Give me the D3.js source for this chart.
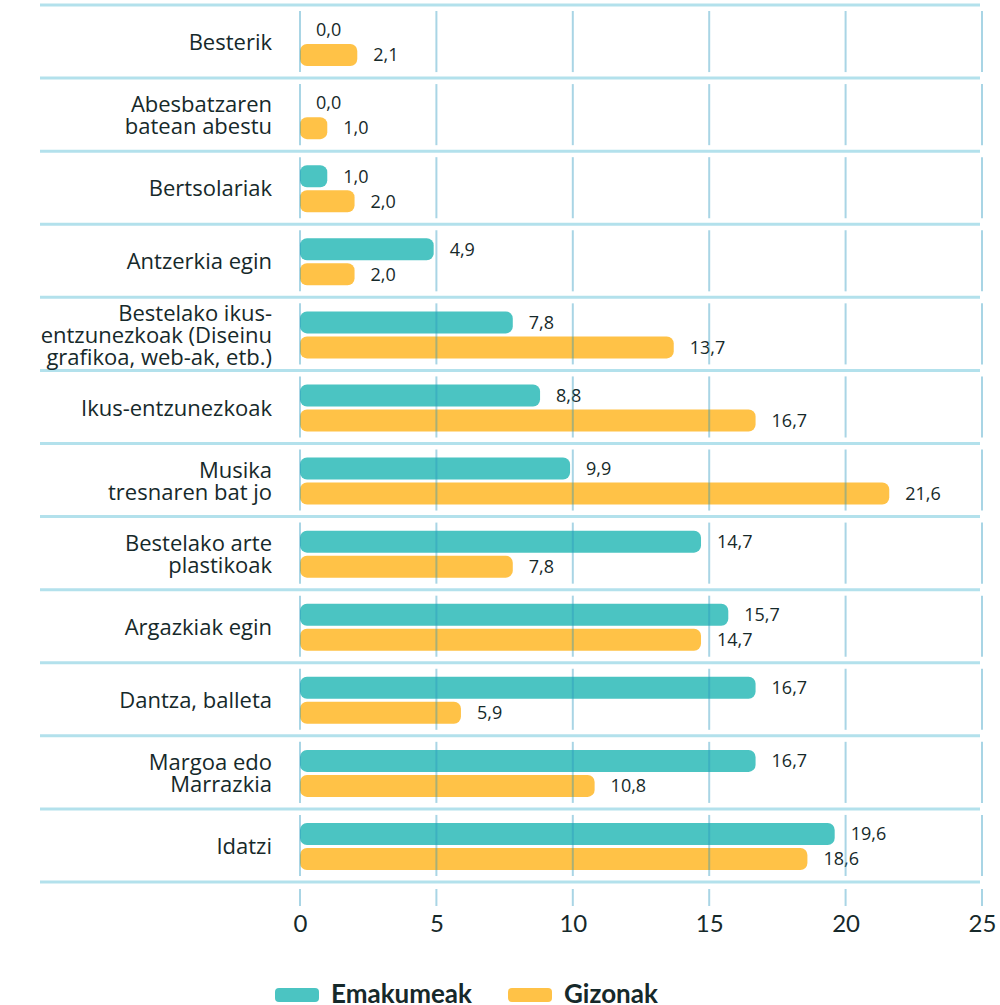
<!DOCTYPE html>
<html>
<head>
<meta charset="utf-8">
<script src="https://cdn.jsdelivr.net/npm/d3@7"></script>
<style>
  body { margin: 0; background: #fff; }
  svg text { font-family: "Open Sans", "Noto Sans", sans-serif; fill: #16292a; }
</style>
</head>
<body>
<div id="chart"></div>
<script>
// categories, top to bottom (each one split in its display lines)
var categories = [
  ["Besterik"],
  ["Abesbatzaren", "batean abestu"],
  ["Bertsolariak"],
  ["Antzerkia egin"],
  ["Bestelako ikus-", "entzunezkoak (Diseinu", "grafikoa, web-ak, etb.)"],
  ["Ikus-entzunezkoak"],
  ["Musika", "tresnaren bat jo"],
  ["Bestelako arte", "plastikoak"],
  ["Argazkiak egin"],
  ["Dantza, balleta"],
  ["Margoa edo", "Marrazkia"],
  ["Idatzi"]
];
var emakumeak = [0.0, 0.0, 1.0, 4.9, 7.8, 8.8, 9.9, 14.7, 15.7, 16.7, 16.7, 19.6];
var gizonak   = [2.1, 1.0, 2.0, 2.0, 13.7, 16.7, 21.6, 7.8, 14.7, 5.9, 10.8, 18.6];
var seriesNames = ["Emakumeak", "Gizonak"];
var tickValues = [0, 5, 10, 15, 20, 25];

var width = 1000, height = 1005;
var colors = ["#4bc4c2", "#ffc247"];
var fmt = function(v){ return v.toFixed(1).replace(".", ","); };

var svg = d3.select("#chart").append("svg")
    .attr("width", width)
    .attr("height", height);

var x = d3.scaleLinear().domain([0, 25]).range([300, 982]);
var y = d3.scaleBand().domain(d3.range(categories.length)).range([5, 882]);

var barH = 22, gap = 3;

// horizontal separators
svg.selectAll("line.sep")
   .data(d3.range(categories.length + 1))
   .enter().append("line")
   .attr("x1", 40).attr("x2", 980)
   .attr("y1", function(i){ return i < categories.length ? y(i) : y.range()[1]; })
   .attr("y2", function(i){ return i < categories.length ? y(i) : y.range()[1]; })
   .attr("stroke", "#b3e1ec")
   .attr("stroke-width", 3);

// bars
var rows = categories.map(function(c, i){
  return {i: i, vals: [emakumeak[i], gizonak[i]]};
});

var g = svg.selectAll("g.row").data(rows).enter().append("g");

g.each(function(d){
  var sel = d3.select(this);
  var mid = y(d.i) + y.bandwidth() / 2 + 1;
  d.vals.forEach(function(v, k){
    var top = k === 0 ? mid - gap / 2 - barH : mid + gap / 2;
    var w = x(v) - x(0);
    if (w > 0) {
      sel.append("rect")
         .attr("x", x(0)).attr("y", top)
         .attr("width", w).attr("height", barH)
         .attr("rx", 7).attr("ry", 7)
         .attr("fill", colors[k]);
    }
    sel.append("text")
       .attr("x", x(v) + 16)
       .attr("y", top + barH / 2)
       .attr("dy", "0.35em")
       .attr("font-size", 18)
       .text(fmt(v));
  });
  // category label
  var lines = categories[d.i];
  var lh = 22;
  sel.append("text")
     .attr("text-anchor", "end")
     .attr("font-size", 22)
     .selectAll("tspan").data(lines).enter().append("tspan")
     .attr("x", 272)
     .attr("y", function(l, j){ return mid + (j - (lines.length - 1) / 2) * lh; })
     .attr("dy", "0.35em")
     .text(function(l){ return l; });
});

// vertical grid segments, drawn over the bars
var bands = d3.range(categories.length + 1);
bands.forEach(function(i){
  var y0 = i < categories.length ? y(i) + 6 : y.range()[1] + 7;
  var y1 = i < categories.length ? y(i) + y.bandwidth() - 6 : y.range()[1] + 24;
  svg.selectAll(null).data(tickValues).enter().append("line")
     .attr("x1", function(t){ return x(t); })
     .attr("x2", function(t){ return x(t); })
     .attr("y1", y0).attr("y2", y1)
     .attr("stroke", "rgba(40,150,190,0.4)")
     .attr("stroke-width", 2);
});

// axis labels
var axis = d3.axisBottom(x).tickValues(tickValues).tickSize(0).tickPadding(0);
var ax = svg.append("g").attr("transform", "translate(0,915)").call(axis);
ax.select(".domain").remove();
ax.selectAll("text")
  .attr("font-size", 24)
  .style("font-family", "Lato, 'Noto Sans', sans-serif")
  .style("fill", "#16292a");

// legend
var legendX = [275, 508];
seriesNames.forEach(function(name, k){
  svg.append("rect")
     .attr("x", legendX[k]).attr("y", 988)
     .attr("width", 44).attr("height", 14)
     .attr("rx", 4)
     .attr("fill", colors[k]);
  svg.append("text")
     .attr("x", legendX[k] + 56).attr("y", 1003)
     .attr("font-size", 26)
     .attr("font-weight", "bold")
     .style("font-family", "Lato, 'Noto Sans', sans-serif")
     .text(name);
});
</script>
</body>
</html>
